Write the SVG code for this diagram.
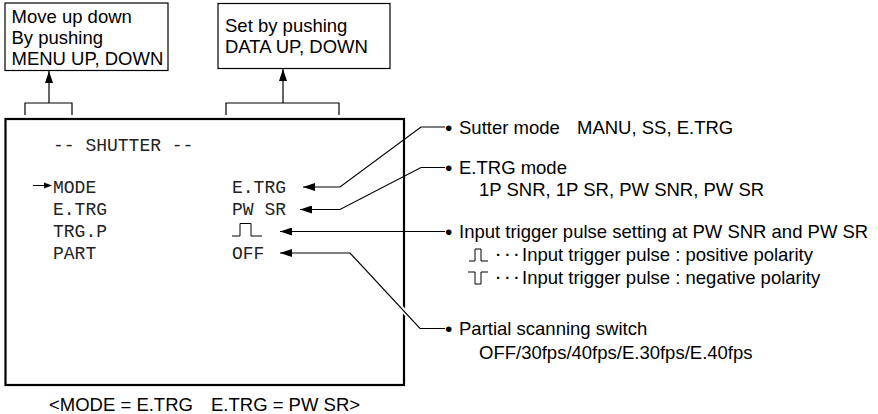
<svg xmlns="http://www.w3.org/2000/svg" width="878" height="414" viewBox="0 0 878 414">
<style>
.sans{font-family:"Liberation Sans",Arial,sans-serif;font-size:18.5px;fill:#000}
.mono{font-family:"Liberation Mono","Courier New",monospace;font-size:18px;fill:#222}
.bul{font-size:21px}
.dots{font-weight:bold;font-size:15px}
.box{fill:#fff;stroke:#000;stroke-width:1.2}
.ln{fill:none;stroke:#000;stroke-width:1.2}
.pulse{fill:none;stroke:#000;stroke-width:1}
</style>
<defs>
<marker id="ah" viewBox="0 0 12 8" refX="12" refY="4" markerWidth="12" markerHeight="8" markerUnits="userSpaceOnUse" orient="auto">
<path d="M0,0 L12,4 L0,8 Z" fill="#000"/>
</marker>
</defs>

<g id="menu-note">
<rect class="box" x="5" y="3" width="163" height="67.5"/>
<text class="sans" x="11.5" y="22.5">Move up down</text>
<text class="sans" x="11.5" y="43.5">By pushing</text>
<text class="sans" x="11.5" y="65">MENU UP, DOWN</text>
</g>

<g id="data-note">
<rect class="box" x="218" y="3.5" width="172" height="65"/>
<text class="sans" x="225" y="32">Set by pushing</text>
<text class="sans" x="225" y="53">DATA UP, DOWN</text>
</g>

<g id="screen">
<rect x="5.5" y="119" width="398.5" height="266" fill="#fff" stroke="#000" stroke-width="2.2"/>
<text class="mono" x="53" y="151">-- SHUTTER --</text>
<line x1="33" y1="185.5" x2="46" y2="185.5" stroke="#000" stroke-width="1"/>
<path d="M44,182.5 L52,185.5 L44,188.5 Z" fill="#000"/>
<text class="mono" x="53" y="193">MODE</text>
<text class="mono" x="53" y="215">E.TRG</text>
<text class="mono" x="53" y="237">TRG.P</text>
<text class="mono" x="53" y="259">PART</text>
<text class="mono" x="232" y="193">E.TRG</text>
<text class="mono" x="232" y="215">PW SR</text>
<polyline class="pulse" points="232,236 240,236 240,223.5 251,223.5 251,236 262,236"/>
<text class="mono" x="232" y="259">OFF</text>
</g>

<g id="connectors">
<path class="ln" d="M25,115 V103 H72 V115"/>
<line class="ln" x1="49" y1="103" x2="49" y2="71" marker-end="url(#ah)"/>
<path class="ln" d="M226,115 V103 H339 V115"/>
<line class="ln" x1="283" y1="103" x2="283" y2="69" marker-end="url(#ah)"/>
<path class="ln" d="M445,127 H421 L340,187 H303" marker-end="url(#ah)"/>
<path class="ln" d="M445,167.5 H421 L340,209.5 H300" marker-end="url(#ah)"/>
<path class="ln" d="M445,231.5 H280" marker-end="url(#ah)"/>
<line x1="397" y1="303.5" x2="411" y2="318.5" stroke="#fff" stroke-width="5"/>
<path class="ln" d="M445,328.5 H420 L350,253 H280" marker-end="url(#ah)"/>
</g>

<g id="note-mode">
<text class="sans" x="445" y="134.5"><tspan class="bul">•</tspan><tspan x="459" y="133.5">Sutter mode</tspan><tspan x="577">MANU, SS, E.TRG</tspan></text>
</g>
<g id="note-etrg">
<text class="sans" x="445" y="175"><tspan class="bul">•</tspan><tspan x="459" y="174">E.TRG mode</tspan></text>
<text class="sans" x="479" y="196">1P SNR, 1P SR, PW SNR, PW SR</text>
</g>
<g id="note-trgp">
<text class="sans" x="445" y="238.5"><tspan class="bul">•</tspan><tspan x="459" y="237.5">Input trigger pulse setting at PW SNR and PW SR</tspan></text>
<polyline class="pulse" points="469,261 475,261 475,249 481,249 481,261 488,261"/>
<text class="sans" x="496" y="260"><tspan class="dots">· · ·</tspan><tspan x="522" y="261">Input trigger pulse : positive polarity</tspan></text>
<polyline class="pulse" points="468,272 475,272 475,284 481,284 481,272 488,272"/>
<text class="sans" x="496" y="283"><tspan class="dots">· · ·</tspan><tspan x="522" y="284">Input trigger pulse : negative polarity</tspan></text>
</g>
<g id="note-part">
<text class="sans" x="445" y="336"><tspan class="bul">•</tspan><tspan x="459" y="335">Partial scanning switch</tspan></text>
<text class="sans" x="479" y="359">OFF/30fps/40fps/E.30fps/E.40fps</text>
</g>

<g id="caption">
<text class="sans" x="49" y="411">&lt;MODE = E.TRG<tspan x="211">E.TRG = PW SR&gt;</tspan></text>
</g>
</svg>
